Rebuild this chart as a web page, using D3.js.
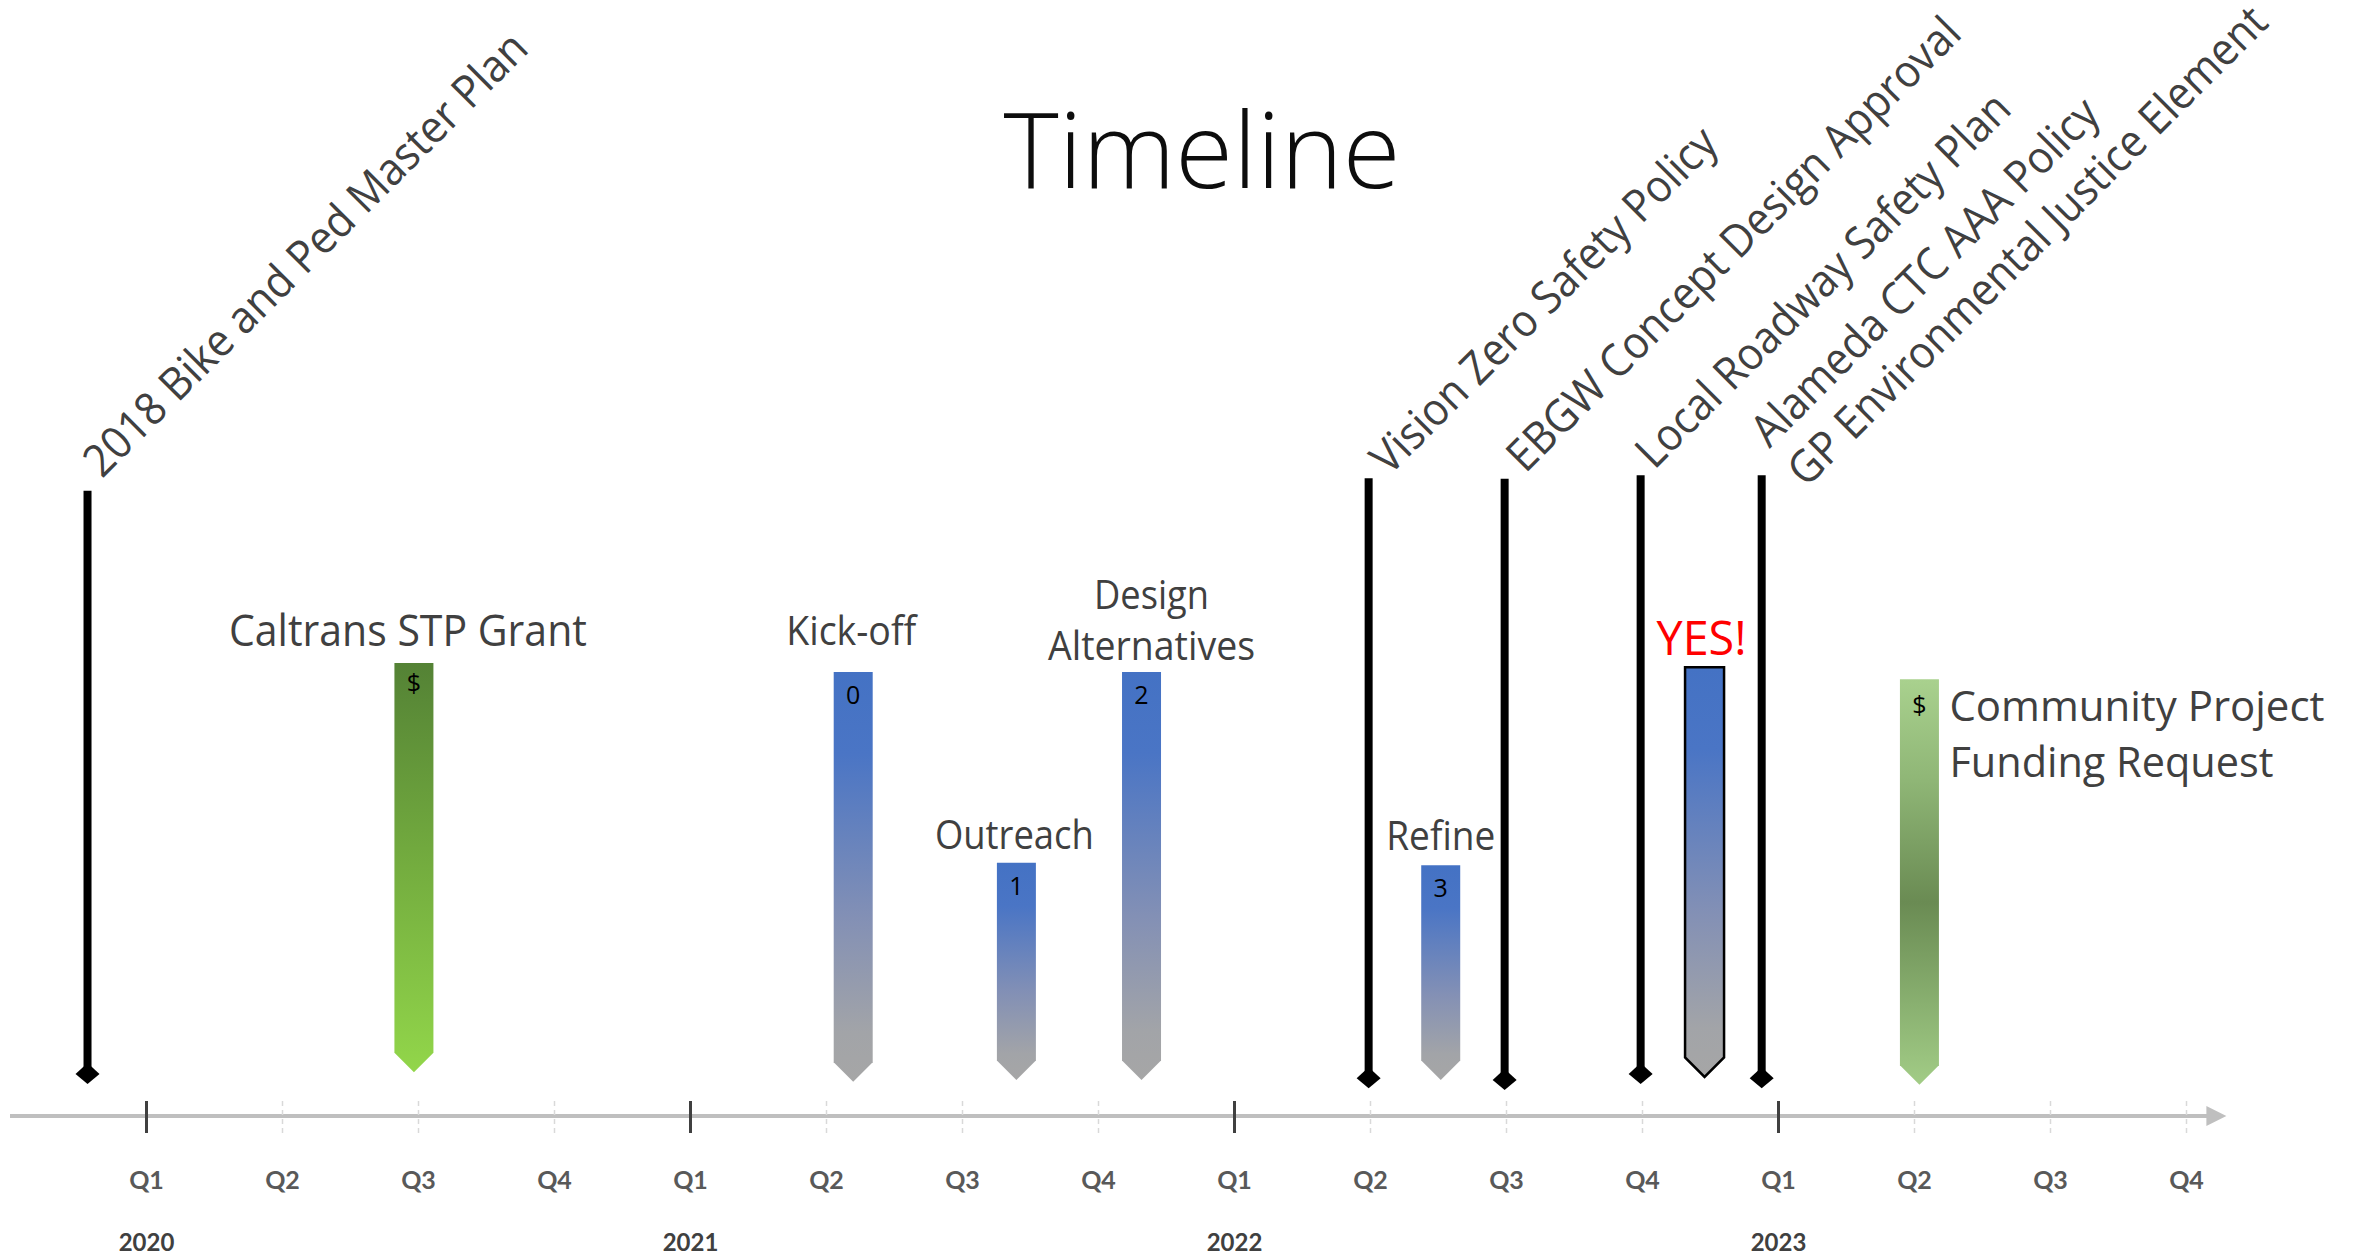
<!DOCTYPE html>
<html>
<head>
<meta charset="utf-8">
<script src="https://cdn.jsdelivr.net/npm/d3@7"></script>
<style>
  html, body { margin: 0; padding: 0; background: #ffffff; }
  svg { display: block; }
</style>
</head>
<body>
<svg id="chart" width="2362" height="1257"></svg>
<script>
// ---------------- DATA ----------------
const titleText = "Timeline";

// axis: quarter index 0 = 2020 Q1 ... 15 = 2023 Q4
const quarterLabels = ["Q1","Q2","Q3","Q4","Q1","Q2","Q3","Q4","Q1","Q2","Q3","Q4","Q1","Q2","Q3","Q4"];
const yearLabels = ["2020","2021","2022","2023"];

// milestones (black lines with diamond)
const milestoneLabels = [
  ["2018 Bike and Ped Master Plan"],
  ["Vision Zero Safety Policy"],
  ["EBGW Concept Design Approval"],
  ["Local Roadway Safety Plan"],
  ["Alameda CTC AAA Policy", "GP Environmental Justice Element"]
];
const milestoneQuarter = [-0.43, 8.99, 9.99, 10.99, 11.88];
const milestoneTop     = [98.2, 100.3, 100.2, 100.8, 100.8];
const milestoneBottom  = [1.0, 0.3, 0.0, 1.0, 0.3];

// phases (arrow bars)
const phaseLabels  = [["Caltrans STP Grant"], ["Kick-off"], ["Outreach"], ["Design", "Alternatives"], ["Refine"], ["YES!"], ["Community Project", "Funding Request"]];
const phaseMarker  = ["$", "0", "1", "2", "3", "", "$"];
const phaseQuarter = [1.97, 5.2, 6.4, 7.32, 9.52, 11.46, 13.04];
const phaseTop     = [69.5, 68.0, 36.2, 68.0, 35.8, 68.8, 66.8];
const phaseTip     = [1.3, -0.3, 0.0, 0.0, 0.0, 0.5, -0.8];
const phaseKind    = ["green", "blue", "blue", "blue", "blue", "outlined", "greenFade"];

// ---------------- LAYOUT ----------------
const svg = d3.select("#chart");
const x = d3.scaleLinear().domain([0, 15]).range([146, 2186]);
const y = d3.scaleLinear().domain([0, 100]).range([1080, 480]);
const axisY = 1116;
const textGray = "#404040";

// gradients
const defs = svg.append("defs");
function grad(id, stops) {
  const g = defs.append("linearGradient").attr("id", id)
    .attr("x1", 0).attr("y1", 0).attr("x2", 0).attr("y2", 1);
  stops.forEach(s => g.append("stop").attr("offset", s[0]).attr("stop-color", s[1]));
}
grad("g-blue", [[0, "#4472c4"], [0.2, "#4a75c5"], [0.6, "#8390b5"], [0.88, "#a2a4a8"], [1, "#a6a6a6"]]);
grad("g-green", [[0, "#548235"], [0.5, "#74ad3f"], [1, "#92d64a"]]);
grad("g-greenFade", [[0, "#a9d18e"], [0.25, "#8fb676"], [0.55, "#6a8b53"], [0.8, "#89b070"], [1, "#a2cc86"]]);

// title
svg.append("text")
  .attr("x", 1202).attr("y", 188)
  .attr("text-anchor", "middle")
  .attr("font-family", "'Open Sans', sans-serif")
  .attr("font-weight", 300)
  .attr("font-size", 105)
  .attr("fill", "#0d0d0d")
  .attr("textLength", 397)
  .attr("lengthAdjust", "spacingAndGlyphs")
  .text(titleText);

// ---------------- AXIS ----------------
svg.append("line")
  .attr("x1", x(-1.0)).attr("x2", x(15.2))
  .attr("y1", axisY).attr("y2", axisY)
  .attr("stroke", "#bfbfbf").attr("stroke-width", 4);
svg.append("path")
  .attr("d", `M${x(15.15)},${axisY - 10} L${x(15.15) + 20},${axisY} L${x(15.15)},${axisY + 10} Z`)
  .attr("fill", "#bfbfbf");

const axis = d3.axisBottom(x)
  .tickValues(d3.range(quarterLabels.length))
  .tickSize(0)
  .tickPadding(0)
  .tickFormat(i => quarterLabels[i]);

const axisG = svg.append("g").attr("transform", `translate(0,${axisY})`).call(axis);
axisG.select(".domain").remove();
axisG.selectAll(".tick").each(function(d) {
  const t = d3.select(this);
  const isYear = d % 4 === 0;
  t.insert("line", "text")
    .attr("x1", 0).attr("x2", 0).attr("y1", -15).attr("y2", 17)
    .attr("stroke", isYear ? "#404040" : "#d9d9d9")
    .attr("stroke-width", isYear ? 3 : 1.5)
    .attr("stroke-dasharray", isYear ? null : "5,4");
  t.select("text")
    .attr("y", 73).attr("dy", 0)
    .attr("font-family", "Lato, sans-serif")
    .attr("font-weight", 700)
    .attr("font-size", 25)
    .attr("fill", "#595959");
  if (isYear) {
    t.append("text")
      .attr("y", 135)
      .attr("text-anchor", "middle")
      .attr("font-family", "Lato, sans-serif")
      .attr("font-weight", 700)
      .attr("font-size", 24)
      .attr("fill", "#404040")
      .text(yearLabels[d / 4]);
  }
});

// ---------------- MILESTONES ----------------
const msShift = [[4, -3], [10, 7], [10, 4], [3, 4], [15, 0]];
const msLen = [[606], [468], [620], [508], [470, 656]];
const ms = svg.append("g");
milestoneLabels.forEach((lines, i) => {
  const cx = x(milestoneQuarter[i]);
  const yt = y(milestoneTop[i]);
  const yb = y(milestoneBottom[i]);
  ms.append("line")
    .attr("x1", cx).attr("x2", cx).attr("y1", yt).attr("y2", yb)
    .attr("stroke", "#000").attr("stroke-width", 8);
  ms.append("path")
    .attr("d", `M${cx},${yb - 11} L${cx + 12},${yb} L${cx},${yb + 10} L${cx - 12},${yb} Z`)
    .attr("fill", "#000");
  const ox = cx + 12 + msShift[i][0], oy = yt - 10 + msShift[i][1];
  const g = ms.append("g")
    .attr("transform", `translate(${ox},${oy}) rotate(-45)`);
  lines.forEach((ln, k) => {
    g.append("text")
      .attr("x", k === 0 ? -2 : -4)
      .attr("y", k === 0 ? (lines.length > 1 ? -25 : 0) : 29)
      .attr("font-family", "'Open Sans', sans-serif")
      .attr("font-size", 45)
      .attr("fill", textGray)
      .attr("textLength", msLen[i][k])
      .attr("lengthAdjust", "spacingAndGlyphs")
      .text(ln);
  });
});

// ---------------- PHASES ----------------
const labelGap = [17, 27, 14, 12, 15, 12, 0];
const labelDx  = [-6, -2, -2, 10, 0, -3, 0];
const labelWidth = [[358], [130], [159], [115, 207], [109], [90], [375, 324]];
const ph = svg.append("g");
phaseLabels.forEach((lines, i) => {
  const cx = x(phaseQuarter[i]);
  const w = 39, h = w / 2;
  const yt = y(phaseTop[i]);
  const ytip = y(phaseTip[i]);
  const yr = ytip - h;
  const kind = phaseKind[i];
  const fill = kind === "green" ? "url(#g-green)" : kind === "greenFade" ? "url(#g-greenFade)" : "url(#g-blue)";
  ph.append("path")
    .attr("d", `M${cx - h},${yt} L${cx + h},${yt} L${cx + h},${yr} L${cx},${ytip} L${cx - h},${yr} Z`)
    .attr("fill", fill)
    .attr("stroke", kind === "outlined" ? "#000" : "none")
    .attr("stroke-width", kind === "outlined" ? 2.5 : 0);
  if (phaseMarker[i]) {
    const isDollar = phaseMarker[i] === "$";
    ph.append("text")
      .attr("x", cx).attr("y", yt + (isDollar ? (kind === "greenFade" ? 35 : 29) : 32))
      .attr("text-anchor", "middle")
      .attr("font-family", "'Open Sans', sans-serif")
      .attr("font-size", isDollar ? 25 : 25)
      .attr("fill", "#000")
      .text(phaseMarker[i]);
  }
  const isYes = kind === "outlined";
  if (kind === "greenFade") {
    lines.forEach((ln, k) => {
      ph.append("text")
        .attr("x", cx + 30).attr("y", yt + 42 + k * 56)
        .attr("font-family", "'Open Sans', sans-serif")
        .attr("font-size", 42)
        .attr("fill", textGray)
        .attr("textLength", labelWidth[i][k])
        .attr("lengthAdjust", "spacingAndGlyphs")
        .text(ln);
    });
  } else {
    const n = lines.length;
    lines.forEach((ln, k) => {
      ph.append("text")
        .attr("x", cx + labelDx[i]).attr("y", yt - labelGap[i] - (n - 1 - k) * 51)
        .attr("text-anchor", "middle")
        .attr("font-family", "'Open Sans', sans-serif")
        .attr("font-size", isYes ? 48 : (i === 0 ? 44 : 40))
        .attr("fill", isYes ? "#ff0000" : textGray)
        .attr("textLength", labelWidth[i][k])
        .attr("lengthAdjust", "spacingAndGlyphs")
        .text(ln);
    });
  }
});
</script>
</body>
</html>
